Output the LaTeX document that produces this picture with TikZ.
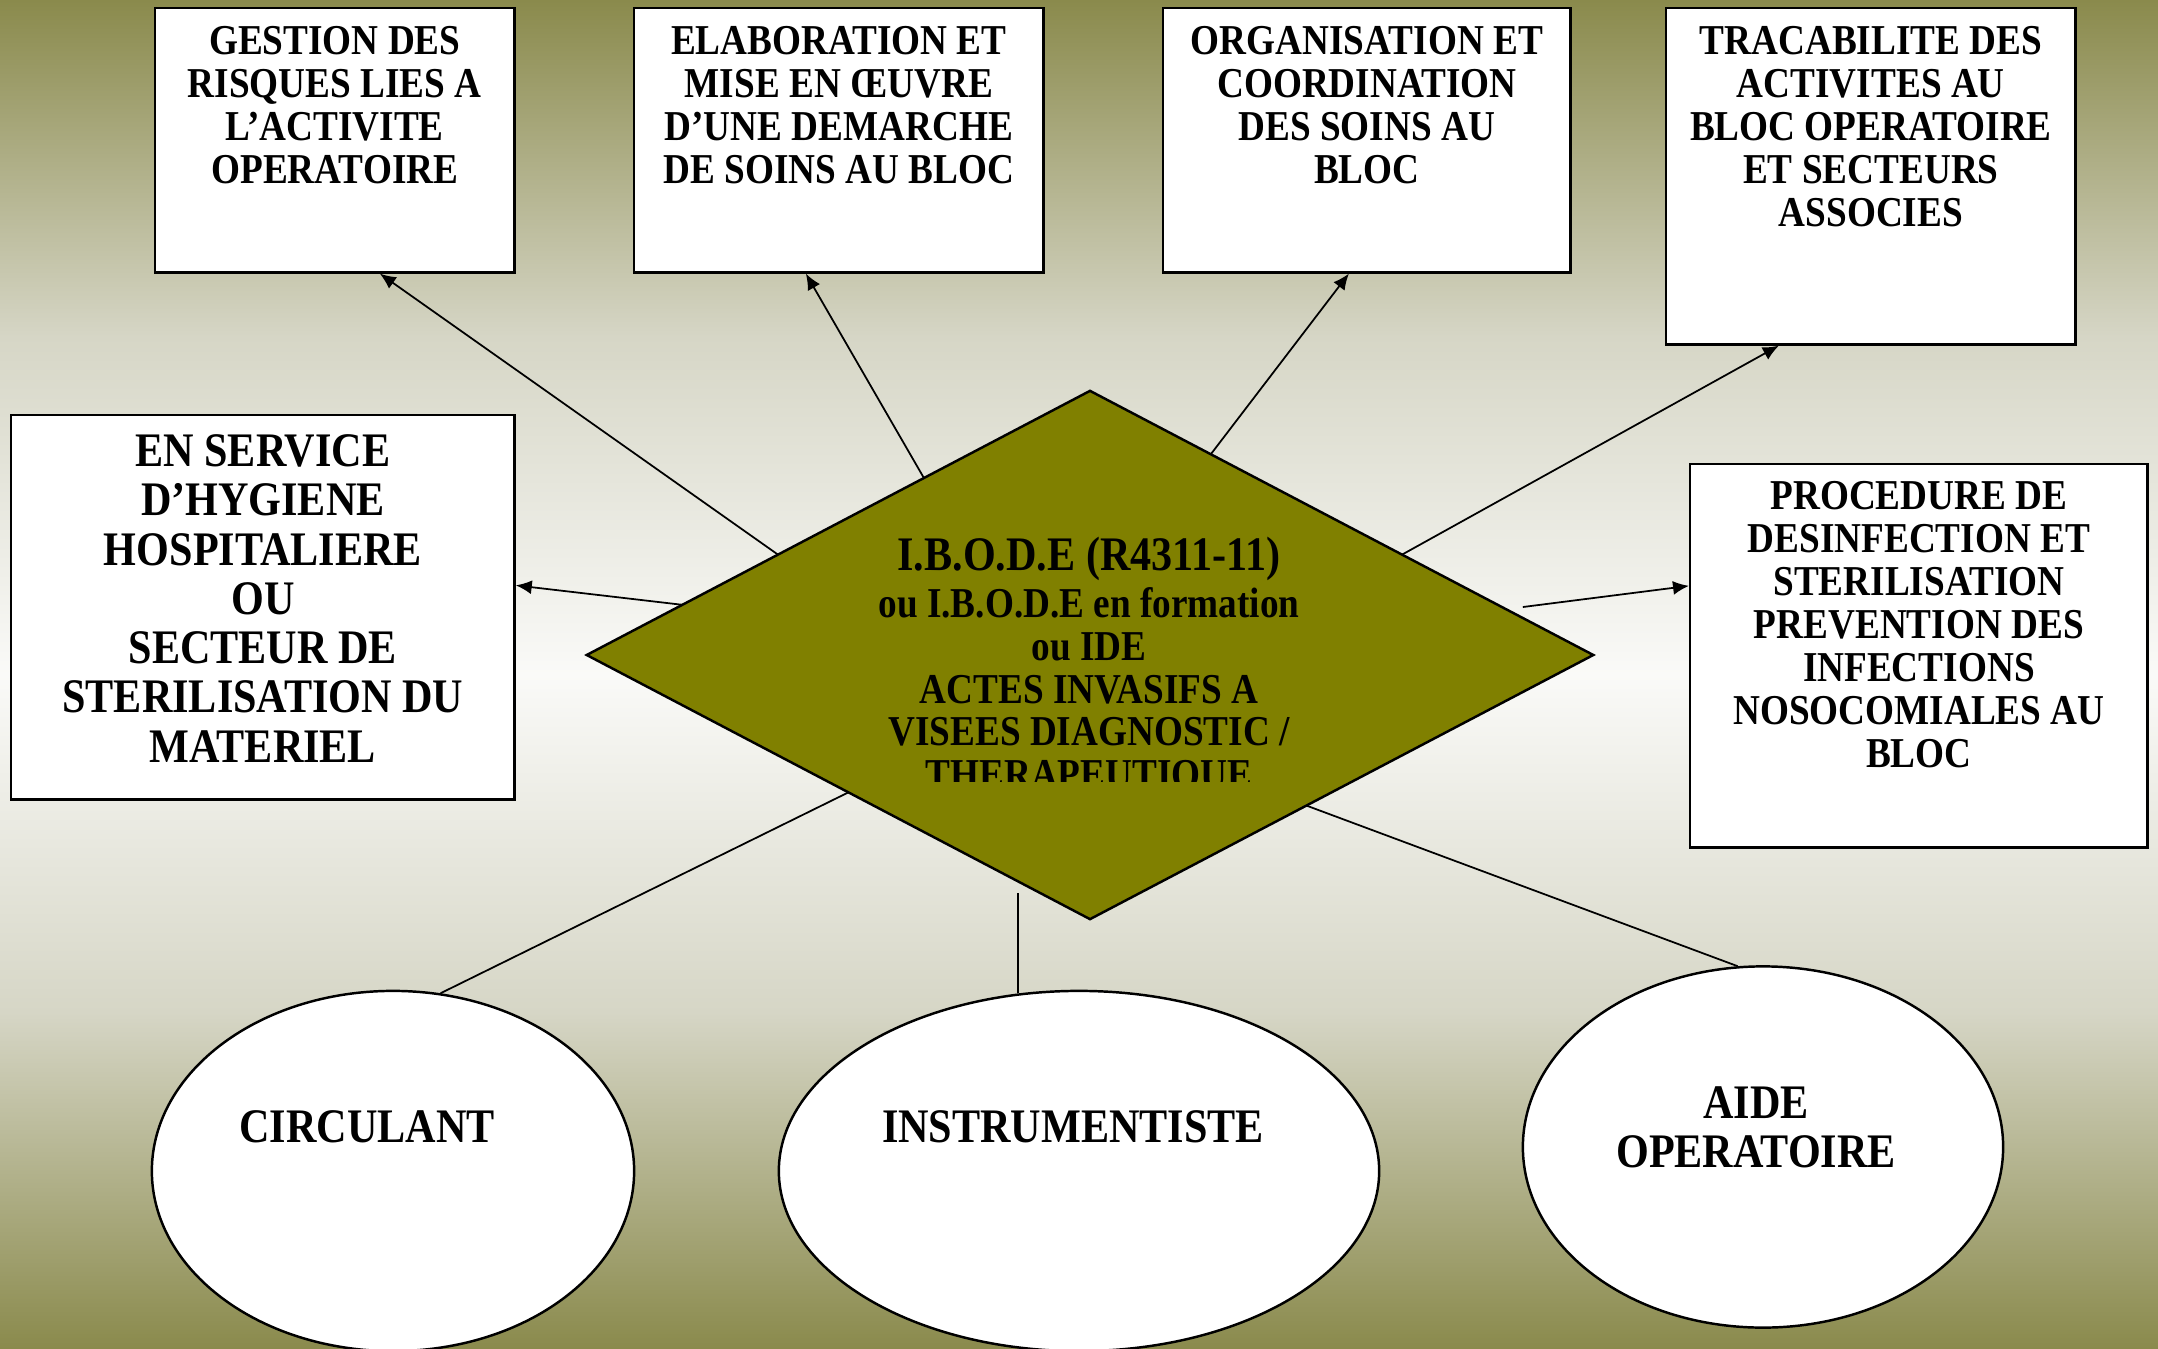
\documentclass[tikz,border=0pt]{standalone}
\usepackage{fontspec}
\setmainfont{Liberation Serif}[FakeStretch=0.875]
\usetikzlibrary{shapes.geometric,arrows.meta,calc,positioning}

\definecolor{bgolive}{RGB}{138,138,76}
\definecolor{bglight}{RGB}{214,214,198}
\definecolor{bgwhite}{RGB}{250,250,248}
\definecolor{iadeolive}{RGB}{128,128,0}

% the path covers 25bp..75bp of the shading
\pgfdeclareverticalshading{bgshade}{100bp}{color(0bp)=(bgolive); color(25bp)=(bgolive); color(37.5bp)=(bglight); color(50bp)=(bgwhite); color(62.5bp)=(bglight); color(75bp)=(bgolive); color(100bp)=(bgolive)}

\tikzset{
  tache/.style={draw, fill=white, line width=0.7pt, inner sep=0pt, anchor=north west},
  tachetxt/.style={inner sep=0pt, align=center, font={\bfseries\fontsize{12.1}{12.2}\selectfont}},
  role/.style={draw, fill=white, ellipse, line width=0.7pt, inner sep=0pt},
  roletxt/.style={anchor=north, inner sep=0pt, align=center, font={\bfseries\fontsize{13.7}{14}\selectfont}},
  fleche/.style={-{Latex[length=1.6mm,width=1.4mm]}, line width=0.5pt},
  lien/.style={line width=0.5pt}
}

\begin{document}
\begin{tikzpicture}[x=0.01cm, y=-0.01cm]
	\useasboundingbox (0,0) rectangle (2158,1349);
	\shade[shading=bgshade] (0,0) rectangle (2158,1349);

	% missions en haut
	\node[tache, minimum width=3.59cm, minimum height=2.64cm] (gestion) at (154,7) {};
	\node[tache, minimum width=4.09cm, minimum height=2.64cm] (elab) at (633,7) {};
	\node[tache, minimum width=4.07cm, minimum height=2.64cm] (org) at (1162,7) {};
	\node[tache, minimum width=4.09cm, minimum height=3.36cm] (trac) at (1665,7) {};
	\node[tache, minimum width=5.03cm, minimum height=3.84cm] (hyg) at (10,414) {};
	\node[tache, minimum width=4.57cm, minimum height=3.83cm] (proc) at (1689,463) {};

	\node[tachetxt, below=0.19cm of gestion.north] (gestiontxt) {GESTION DES\\RISQUES LIES A\\L’ACTIVITE\\OPERATOIRE};
	\node[tachetxt, below=0.19cm of elab.north] (elabtxt) {ELABORATION ET\\MISE EN ŒUVRE\\D’UNE DEMARCHE\\DE SOINS AU BLOC};
	\node[tachetxt, below=0.19cm of org.north] (orgtxt) {ORGANISATION ET\\COORDINATION\\DES SOINS AU\\BLOC};
	\node[tachetxt, below=0.19cm of trac.north] (tractxt) {TRACABILITE DES\\ACTIVITES AU\\BLOC OPERATOIRE\\ET SECTEURS\\ASSOCIES};
	\node[tachetxt, font={\bfseries\fontsize{13.7}{14}\selectfont}, below=0.2cm of hyg.north] (hygtxt) {EN SERVICE\\D’HYGIENE\\HOSPITALIERE\\OU\\SECTEUR DE\\STERILISATION DU\\MATERIEL};
	\node[tachetxt, below=0.18cm of proc.north] (proctxt) {PROCEDURE DE\\DESINFECTION ET\\STERILISATION\\PREVENTION DES\\INFECTIONS\\NOSOCOMIALES AU\\BLOC};

	% centre
	\node[diamond, draw, fill=iadeolive, line width=0.7pt, inner sep=0pt, outer sep=0pt, minimum width=10.06cm, minimum height=5.28cm] (iade) at (1090,655) {};
	\begin{scope}
		\clip (588,392) rectangle (1592,781);
		\node[tachetxt, anchor=north, font={\bfseries\fontsize{12.1}{12.2}\selectfont}] (iadetxt) at (1089,536) {{\fontsize{13.7}{14}\selectfont I.B.O.D.E (R4311-11)}\\[1.2pt]ou I.B.O.D.E en formation\\ou IDE\\ACTES INVASIFS A\\VISEES DIAGNOSTIC /\\THERAPEUTIQUE};
	\end{scope}

	% roles
	\node[role, minimum width=4.82cm, minimum height=3.6cm] (circ) at (393,1171) {};
	\node[role, minimum width=6cm, minimum height=3.6cm] (instr) at (1079,1171) {};
	\node[role, minimum width=4.8cm, minimum height=3.61cm] (aide) at (1763,1147) {};
	\node[roletxt] (circtxt) at (367,1110) {CIRCULANT};
	\node[roletxt] (instrtxt) at (1073,1110) {INSTRUMENTISTE};
	\node[roletxt] (aidetxt) at (1756,1086) {AIDE\\OPERATOIRE};

	\draw[fleche] ($(iade.west)!0.38!(iade.north)$) -- ($(gestion.south)+(45,0)$);
	\draw[fleche] ($(iade.west)!0.67!(iade.north)$) -- ($(elab.south)+(-33,0)$);
	\draw[fleche] ($(iade.north)!0.24!(iade.east)$) -- ($(org.south)+(-18,0)$);
	\draw[fleche] ($(iade.north)!0.62!(iade.east)$) -- ($(trac.south)+(-92,0)$);
	\draw[fleche] ($(iade.west)!0.19!(iade.north)$) -- ($(hyg.east)+(0,-22)$);
	\draw[fleche] ($(iade.north)!0.86!(iade.east)+(0,-11)$) -- ($(proc.west)+(0,-70)$);
	\draw[lien] ($(iade.west)!0.52!(iade.south)$) -- (circ.75);
	\draw[lien] (instr.109) -- ++(0,-100);
	\draw[lien] ($(iade.east)!0.57!(iade.south)$) -- (aide.98);

\end{tikzpicture}
\end{document}
